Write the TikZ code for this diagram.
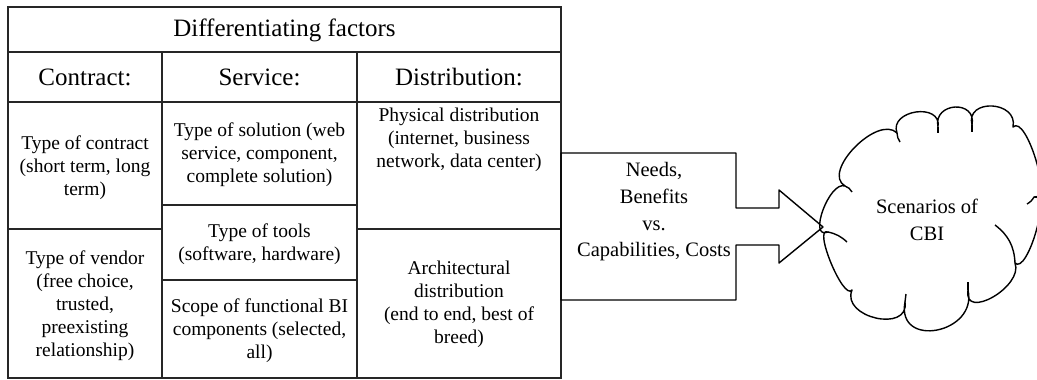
\documentclass[tikz,border=0pt]{standalone}
\usepackage{fontspec}
\setmainfont{Liberation Serif}
\begin{document}
\begin{tikzpicture}[x=1pt,y=-1pt,
  tabline/.style={line width=1.3pt, draw=black!85},
  headtext/.style={font=\rmfamily\fontsize{25}{29}\selectfont, inner sep=0pt},
  celltext/.style={font=\rmfamily\fontsize{19.5}{23}\selectfont, align=center, inner sep=0pt},
  midtext/.style={font=\rmfamily\fontsize{20.5}{26.7}\selectfont, align=center, inner sep=0pt},
  outline/.style={line width=1.4pt, draw=black, line join=round}]
\useasboundingbox (0,0) rectangle (1037,380);

% table frame and rulings
\draw[tabline] (8,7) rectangle (561,378);
\draw[tabline] (8,52) -- (561,52);
\draw[tabline] (8,102) -- (561,102);
\draw[tabline] (162,52) -- (162,378);
\draw[tabline] (357,52) -- (357,378);
\draw[tabline] (8,229) -- (162,229);
\draw[tabline] (162,205) -- (357,205);
\draw[tabline] (162,280) -- (357,280);
\draw[tabline] (357,229) -- (561,229);

% headings
\node[headtext] (title) at (284.5,30) {Differentiating factors};
\node[headtext] (hcontract) at (85,77) {Contract:};
\node[headtext] (hservice) at (259.5,77) {Service:};
\node[headtext] (hdistr) at (459,77) {Distribution:};

% contract column
\node[celltext] (contract) at (85,168) {Type of contract\\(short term, long\\term)};
\node[celltext] (vendor) at (85,306) {Type of vendor\\(free choice,\\trusted,\\preexisting\\relationship)};

% service column
\node[celltext] (solution) at (259.5,155) {Type of solution (web\\service, component,\\complete solution)};
\node[celltext] (tools) at (259.5,244.5) {Type of tools\\(software, hardware)};
\node[celltext] (scope) at (259.5,331) {Scope of functional BI\\components (selected,\\all)};

% distribution column
\node[celltext] (physical) at (459,140) {Physical distribution\\(internet, business\\network, data center)};
\node[celltext] (architect) at (459,304.5) {Architectural\\distribution\\(end to end, best of\\breed)};

% block arrow
\draw[outline] (561,153) -- (736,153) -- (736,208) -- (779,208) -- (779,190)
  -- (823,227) -- (779,263) -- (779,245) -- (736,245) -- (736,300) -- (561,300) -- cycle;
\node[midtext] (weigh) at (654,212) {Needs,\\Benefits\\vs.\\Capabilities, Costs};

% cloud: junctions between the puffs
\coordinate (j1) at (845,186);
\coordinate (j2) at (897,133);
\coordinate (j3) at (938,127);
\coordinate (j4) at (972,125);
\coordinate (j5) at (1013,127);
\coordinate (j6) at (1034,197);
\coordinate (j7) at (1015,263);
\coordinate (j8) at (968,290);
\coordinate (j9) at (905,302);
\coordinate (j10) at (852,290);
\coordinate (j11) at (828,232);
\draw[outline] (j1)
  .. controls (821,172) and (878,114) .. (j2)
  .. controls (888.7,109.9) and (942,102.1) .. (j3)
  .. controls (932.8,102) and (977,99.4) .. (j4)
  .. controls (965.1,98) and (1018.4,100.6) .. (j5)
  .. controls (1026.4,113.8) and (1053.7,204.8) .. (j6)
  .. controls (1052.1,189.7) and (1027.3,275.5) .. (j7)
  .. controls (1023.9,286.3) and (962.9,321.4) .. (j8)
  .. controls (978,333.6) and (896.1,349.2) .. (j9)
  .. controls (909.6,333.2) and (840.7,317.6) .. (j10)
  .. controls (843.6,301.4) and (812.4,226) .. (j11)
  .. controls (807.4,240.2) and (829.5,180.4) .. (j1) -- cycle;
% short inner strokes where puffs meet
\draw[outline] (j1) to[bend left=20] ++(7,6);
\draw[outline] (j2) to[bend right=15] ++(3,9);
\draw[outline] (j3) -- ++(0,6);
\draw[outline] (j4) -- ++(0,7);
\draw[outline] (j6) to[bend left=15] ++(-7,7);
\draw[outline] (j7) to[bend right=25] ++(-20,-38);
\draw[outline] (j8) -- ++(0,-8);
\draw[outline] (j9) -- ++(1,-8);
\draw[outline] (j11) to[bend left=15] ++(19,10);
\node[midtext] (cbi) at (927,220) {Scenarios of\\CBI};
\end{tikzpicture}
\end{document}
